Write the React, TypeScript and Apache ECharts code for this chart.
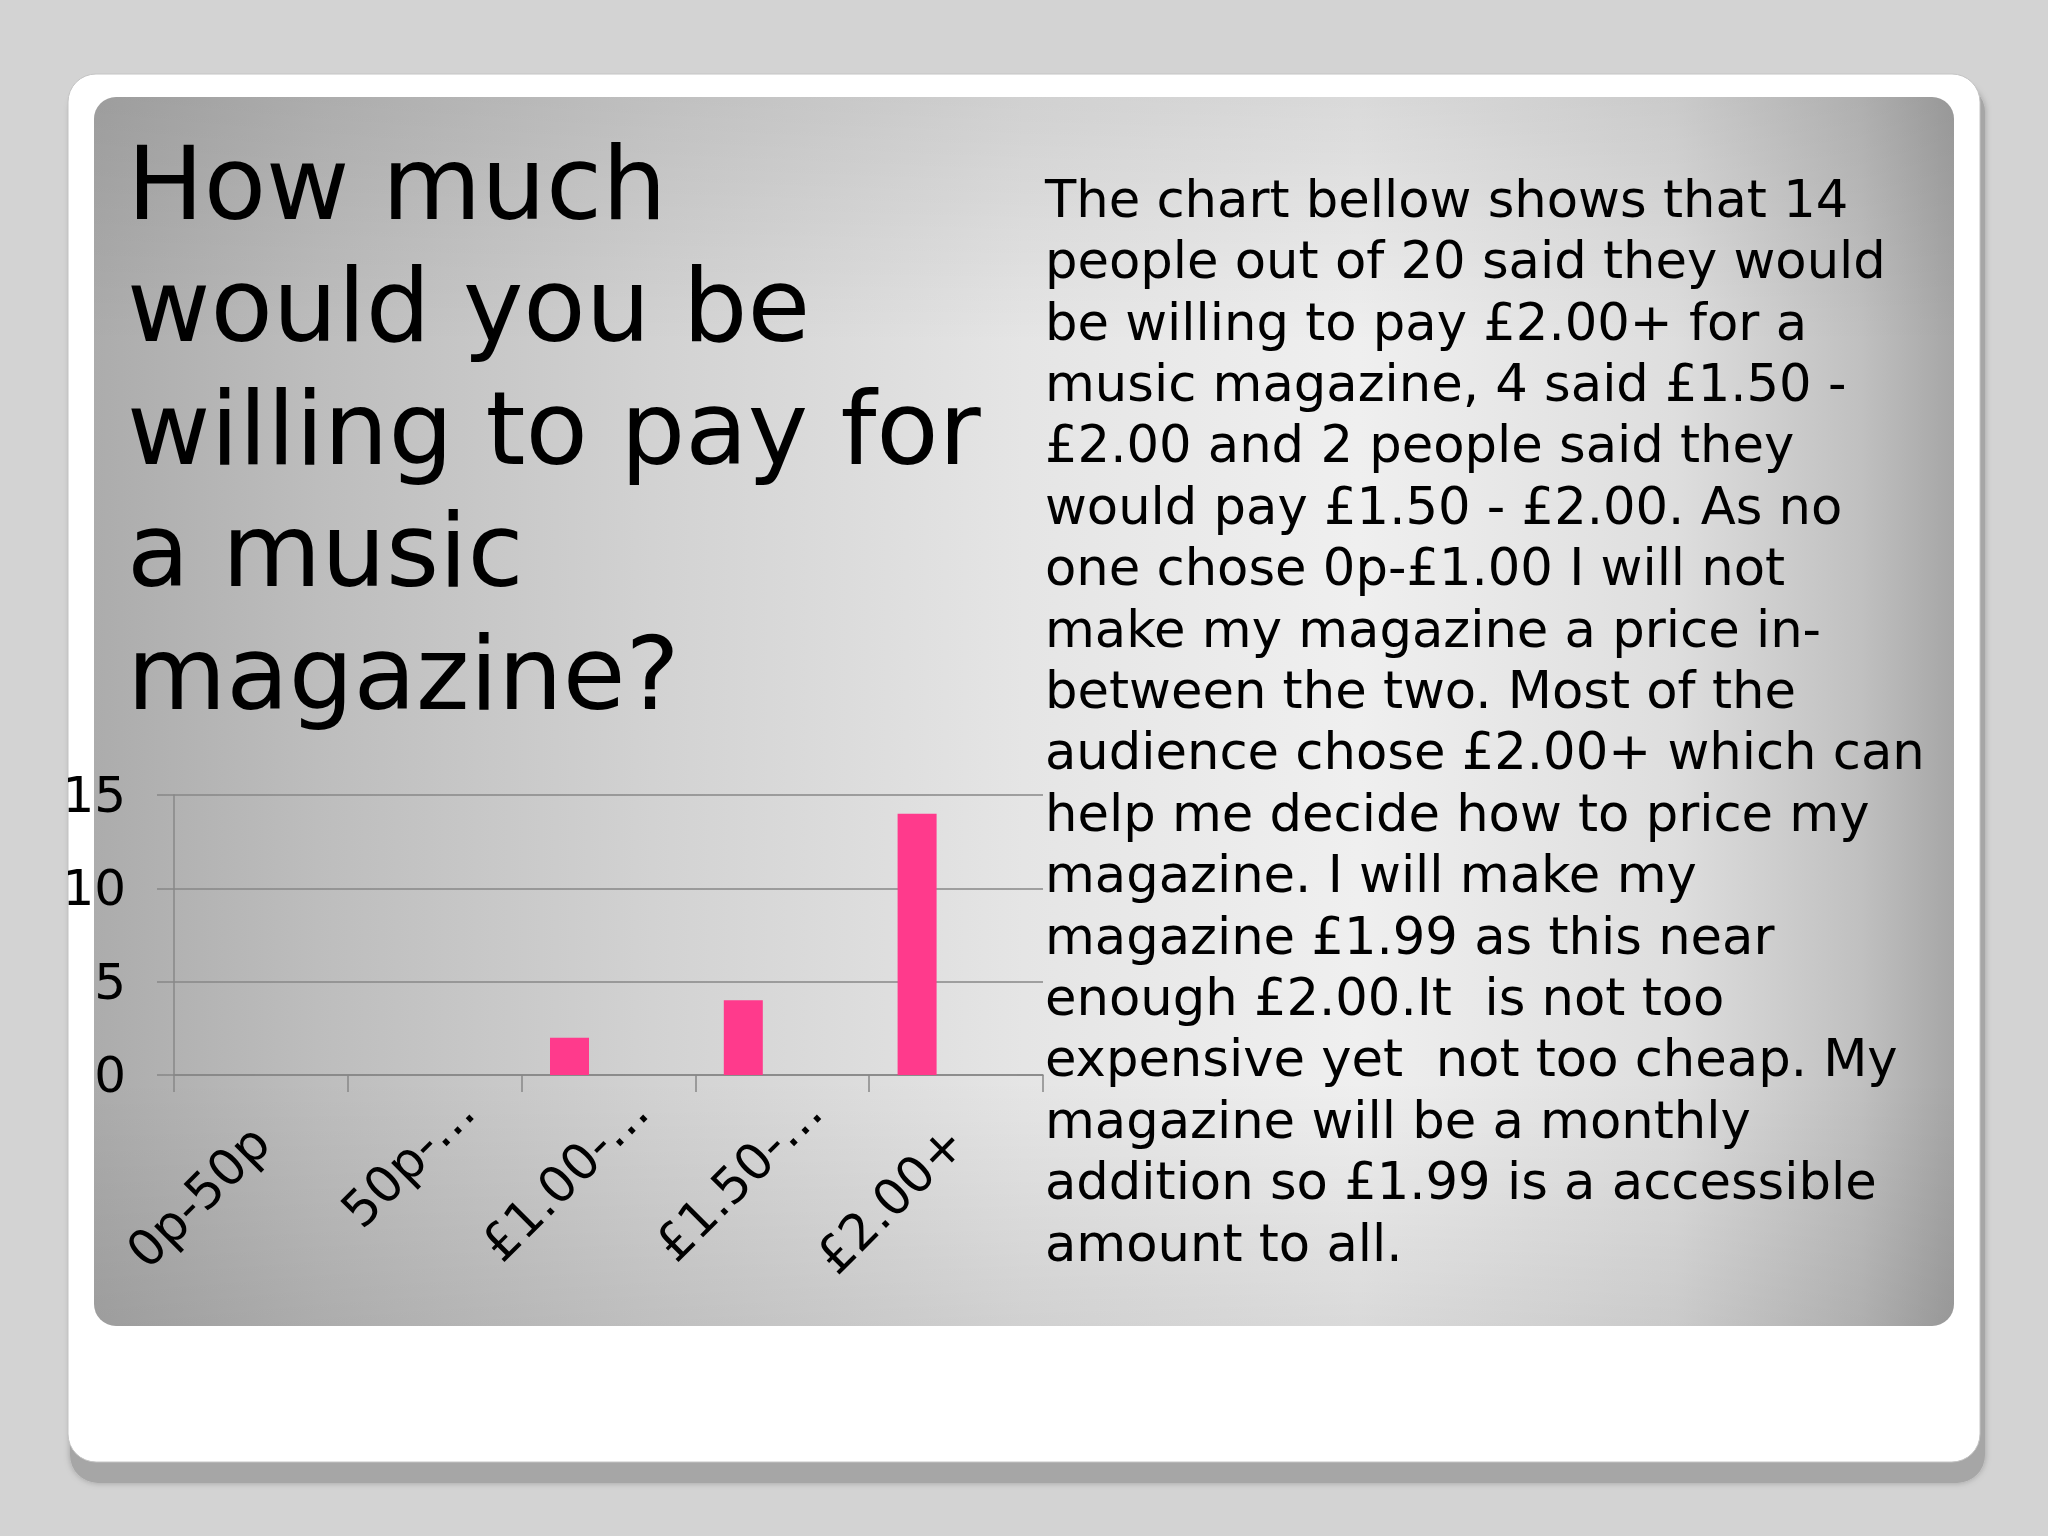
import React, { useEffect, useRef } from 'react';
import * as echarts from 'echarts';

const categories = ['0p-50p', '50p-…', '£1.00-…', '£1.50-…', '£2.00+'];
const series1Values = [0, 0, 2, 4, 14];
const series2Values = [null, null, null, null, null];
const series3Values = [null, null, null, null, null];
const yMin = 0;
const yMax = 15;
const yInterval = 5;

const titleLines = ['How much', 'would you be', 'willing to pay for', 'a music', 'magazine?'];
const bodyLines = [
  'The chart bellow shows that 14',
  'people out of 20 said they would',
  'be willing to pay £2.00+ for a',
  'music magazine, 4 said £1.50 -',
  '£2.00 and 2 people said they',
  'would pay £1.50 - £2.00. As no',
  'one chose 0p-£1.00 I will not',
  'make my magazine a price in-',
  'between the two. Most of the',
  'audience chose £2.00+ which can',
  'help me decide how to price my',
  'magazine. I will make my',
  'magazine £1.99 as this near',
  'enough £2.00.It  is not too',
  'expensive yet  not too cheap. My',
  'magazine will be a monthly',
  'addition so £1.99 is a accessible',
  'amount to all.',
];

const FONT = '"DejaVu Sans", Verdana, sans-serif';
const GRID_COLOR = '#878787';
const BAR_COLOR = '#ff3a8c';

export default function App() {
  const ref = useRef<HTMLDivElement>(null);

  useEffect(() => {
    document.body.style.margin = '0';
    const chart = echarts.init(ref.current!, null, { renderer: 'svg' });
    // Truncated (ellipsis) labels are aligned without counting the ellipsis, as in the source.
    const xAxisData = categories.map((c) =>
      c.endsWith('…') ? { value: c, textStyle: { padding: [0, -44, 0, 0] } } : c
    );
    const option: any = {
      animation: false,
      backgroundColor: '#d3d3d3',
      graphic: [
        {
          type: 'rect',
          z: -100,
          shape: { x: 70, y: 84, width: 1915, height: 1399, r: 28 },
          style: { fill: '#a6a6a6', shadowBlur: 6, shadowColor: 'rgba(0,0,0,0.25)' },
        },
        {
          type: 'rect',
          z: -99,
          shape: { x: 68, y: 74, width: 1912, height: 1388, r: 28 },
          style: { fill: '#ffffff', stroke: '#c4c4c4', lineWidth: 1 },
        },
        {
          type: 'rect',
          z: -98,
          shape: { x: 94, y: 97, width: 1860, height: 1229, r: 22 },
          style: {
            fill: new echarts.graphic.LinearGradient(0, 0, 1, 0, [
              { offset: 0, color: '#acacac' },
              { offset: 0.12, color: '#bdbdbd' },
              { offset: 0.3, color: '#d2d2d2' },
              { offset: 0.5, color: '#e5e5e5' },
              { offset: 0.68, color: '#efefef' },
              { offset: 0.85, color: '#dedede' },
              { offset: 0.95, color: '#c0c0c0' },
              { offset: 1, color: '#a6a6a6' },
            ]),
          },
        },
        {
          type: 'rect',
          z: -97,
          shape: { x: 94, y: 97, width: 1860, height: 1229, r: 22 },
          style: {
            fill: new echarts.graphic.LinearGradient(0, 0, 0, 1, [
              { offset: 0, color: 'rgba(0,0,0,0.09)' },
              { offset: 0.2, color: 'rgba(0,0,0,0)' },
              { offset: 0.8, color: 'rgba(0,0,0,0)' },
              { offset: 1, color: 'rgba(0,0,0,0.09)' },
            ]),
          },
        },
        {
          type: 'text',
          z: 10,
          x: 127,
          y: 122,
          style: {
            text: titleLines.join('\n'),
            fill: '#000000',
            fontSize: 102,
            fontFamily: FONT,
            lineHeight: 122.5,
            align: 'left',
            verticalAlign: 'top',
            textAlign: 'left',
            textVerticalAlign: 'top',
          },
        },
        {
          type: 'text',
          z: 10,
          x: 1045,
          y: 168,
          style: {
            text: bodyLines.join('\n'),
            fill: '#000000',
            fontSize: 51.2,
            fontFamily: FONT,
            lineHeight: 61.4,
            align: 'left',
            verticalAlign: 'top',
            textAlign: 'left',
            textVerticalAlign: 'top',
          },
        },
      ],
      grid: { left: 174, right: 2048 - 1043, top: 795, bottom: 1536 - 1075 },
      xAxis: {
        type: 'category',
        data: xAxisData,
        axisLine: { show: true, lineStyle: { color: GRID_COLOR, width: 1.5 } },
        axisTick: { show: true, length: 17, lineStyle: { color: GRID_COLOR, width: 1.5 } },
        axisLabel: {
          interval: 0,
          rotate: 45,
          margin: 59,
          fontSize: 50,
          fontFamily: FONT,
          color: '#000000',
        },
        splitLine: { show: false },
      },
      yAxis: {
        type: 'value',
        min: yMin,
        max: yMax,
        interval: yInterval,
        axisLine: { show: true, lineStyle: { color: GRID_COLOR, width: 1.5 } },
        axisTick: { show: true, length: 17, lineStyle: { color: GRID_COLOR, width: 1.5 } },
        axisLabel: { margin: 48, fontSize: 50, fontFamily: FONT, color: '#000000' },
        splitLine: { show: true, lineStyle: { color: GRID_COLOR, width: 1.5 } },
      },
      series: [
        {
          name: 'Series 1',
          type: 'bar',
          data: series1Values,
          barWidth: 39,
          barGap: '0%',
          itemStyle: { color: BAR_COLOR },
        },
        {
          name: 'Series 2',
          type: 'bar',
          data: series2Values,
          barWidth: 39,
          barGap: '0%',
          itemStyle: { color: '#8a56e2' },
        },
        {
          name: 'Series 3',
          type: 'bar',
          data: series3Values,
          barWidth: 39,
          barGap: '0%',
          itemStyle: { color: '#56b4e2' },
        },
      ],
    };
    chart.setOption(option);
    return () => chart.dispose();
  }, []);

  return <div ref={ref} style={{ position: 'absolute', left: 0, top: 0, width: 2048, height: 1536 }} />;
}
